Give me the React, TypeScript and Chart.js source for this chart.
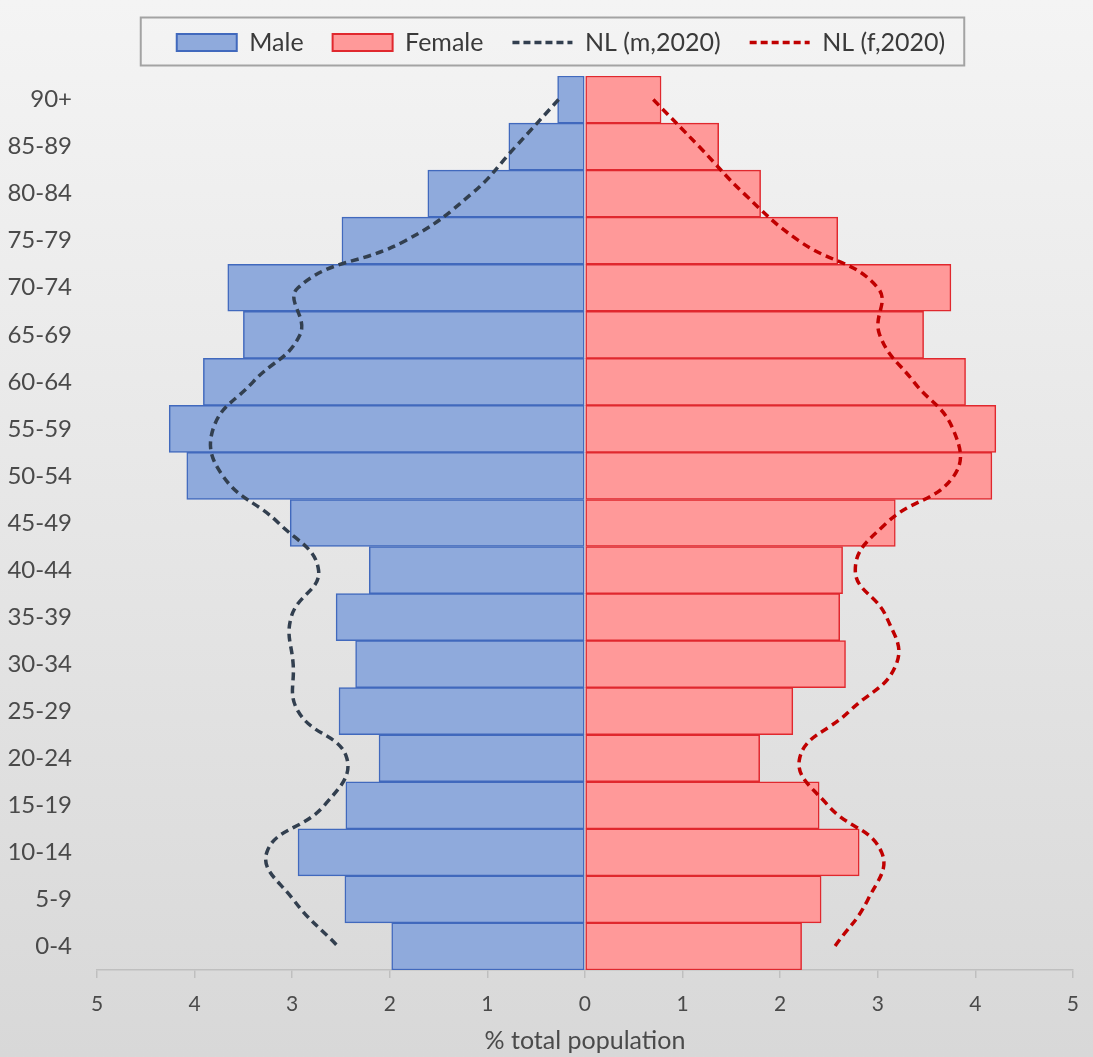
import React, { useEffect, useRef } from "react";
import { Chart, registerables } from "chart.js";

Chart.register(...registerables);

const ageGroups = ["90+", "85-89", "80-84", "75-79", "70-74", "65-69", "60-64", "55-59", "50-54", "45-49", "40-44", "35-39", "30-34", "25-29", "20-24", "15-19", "10-14", "5-9", "0-4"];

const maleValues = [0.28, 0.78, 1.61, 2.49, 3.66, 3.50, 3.91, 4.26, 4.08, 3.02, 2.21, 2.55, 2.35, 2.52, 2.11, 2.45, 2.94, 2.46, 1.98];
const femaleValues = [0.78, 1.37, 1.80, 2.59, 3.75, 3.47, 3.90, 4.21, 4.17, 3.18, 2.64, 2.61, 2.67, 2.13, 1.79, 2.40, 2.81, 2.42, 2.22];
const nlMale2020 = [0.27, 0.71, 1.16, 1.84, 2.94, 2.92, 3.40, 3.81, 3.71, 3.14, 2.73, 3.01, 2.99, 2.94, 2.44, 2.67, 3.26, 2.99, 2.53];
const nlFemale2020 = [0.70, 1.17, 1.63, 2.19, 3.00, 3.02, 3.37, 3.77, 3.78, 3.09, 2.77, 3.09, 3.19, 2.71, 2.20, 2.49, 3.04, 2.90, 2.56];

const xTickValues = [-5, -4, -3, -2, -1, 0, 1, 2, 3, 4, 5];

const FONT = "Lato, 'Open Sans', sans-serif";
const TEXT_COLOR = "#4a4a4a";

const bgPlugin = {
  id: "bgGradient",
  beforeDraw(chart: any) {
    const { ctx, width, height } = chart;
    const g = ctx.createLinearGradient(0, 0, 0, height);
    g.addColorStop(0, "#f4f4f4");
    g.addColorStop(1, "#d8d8d8");
    ctx.save();
    ctx.fillStyle = g;
    ctx.fillRect(0, 0, width, height);
    ctx.restore();
  },
};

const legendShiftPlugin = {
  id: "legendShift",
  afterLayout(chart: any) {
    const lg = chart.legend;
    if (!lg) return;
    lg.left += 24;
    lg.right += 24;
  },
};

const legendBorderPlugin = {
  id: "legendBorder",
  afterDraw(chart: any) {
    const lg = chart.legend;
    if (!lg || !lg.legendHitBoxes || !lg.legendHitBoxes.length) return;
    const hb = lg.legendHitBoxes;
    const first = hb[0];
    const last = hb[hb.length - 1];
    const cy = first.top + first.height / 2;
    const x0 = first.left - 36;
    const x1 = last.left + last.width + 19;
    const { ctx } = chart;
    ctx.save();
    ctx.strokeStyle = "#a3a3a3";
    ctx.lineWidth = 2;
    ctx.strokeRect(x0, cy - 25, x1 - x0, 48);
    ctx.restore();
  },
};

export default function App() {
  const ref = useRef<HTMLCanvasElement | null>(null);

  useEffect(() => {
    if (!ref.current) return;
    const chart = new Chart(ref.current, {
      type: "bar",
      data: {
        labels: ageGroups,
        datasets: [
          {
            type: "bar",
            label: "Male",
            data: maleValues.map((v) => -v),
            backgroundColor: "#8faadc",
            borderColor: "#4169bd",
            borderWidth: 1.5,
            borderSkipped: false,
            barPercentage: 1,
            categoryPercentage: 1,
            grouped: false,
            order: 2,
            xAxisID: "x",
          } as any,
          {
            type: "bar",
            label: "Female",
            data: femaleValues,
            backgroundColor: "#ff9999",
            borderColor: "#e0282e",
            borderWidth: 1.5,
            borderSkipped: false,
            barPercentage: 1,
            categoryPercentage: 1,
            grouped: false,
            order: 2,
            xAxisID: "x",
          } as any,
          {
            type: "line",
            label: "NL (m,2020)",
            data: nlMale2020.map((v) => -v),
            borderColor: "#323f4f",
            backgroundColor: "#323f4f",
            borderWidth: 3.5,
            borderDash: [8, 5],
            pointRadius: 0,
            tension: 0.45,
            fill: false,
            order: 1,
            xAxisID: "x",
          } as any,
          {
            type: "line",
            label: "NL (f,2020)",
            data: nlFemale2020,
            borderColor: "#c00000",
            backgroundColor: "#c00000",
            borderWidth: 3.5,
            borderDash: [8, 5],
            pointRadius: 0,
            tension: 0.45,
            fill: false,
            order: 1,
            xAxisID: "x",
          } as any,
        ],
      },
      options: {
        indexAxis: "y",
        responsive: false,
        animation: false,
        layout: { padding: { left: 0, right: 19, top: 1, bottom: 0 } },
        plugins: {
          tooltip: { enabled: false },
          legend: {
            display: true,
            position: "top",
            labels: {
              usePointStyle: true,
              pointStyleWidth: 60,
              boxHeight: 17,
              padding: 29,
              color: "#3a3a3a",
              font: { family: FONT, size: 25 },
              generateLabels: (ch: any) =>
                ch.data.datasets.map((ds: any, i: number) => ({
                  text: ds.label,
                  fillStyle: ds.type === "line" ? "rgba(0,0,0,0)" : ds.backgroundColor,
                  strokeStyle: ds.borderColor,
                  lineWidth: ds.type === "line" ? 3.5 : 2,
                  lineDash: ds.type === "line" ? [7, 4] : [],
                  pointStyle: ds.type === "line" ? "line" : "rect",
                  hidden: false,
                  datasetIndex: i,
                  fontColor: "#3a3a3a",
                })),
            },
          },
        },
        scales: {
          x: {
            type: "linear",
            position: "bottom",
            min: -5,
            max: 5,
            afterBuildTicks: (scale: any) => {
              scale.ticks = xTickValues.map((v) => ({ value: v }));
            },
            afterFit: (scale: any) => {
              scale.height = 87;
            },
            grid: {
              display: true,
              drawOnChartArea: false,
              drawTicks: true,
              tickLength: 8,
              color: "#bfbfbf",
              lineWidth: 1.5,
            },
            border: { display: true, color: "#bfbfbf", width: 1.5 },
            ticks: {
              padding: 14,
              color: TEXT_COLOR,
              font: { family: FONT, size: 21 },
              callback: (v: any) => String(Math.abs(Number(v))),
            },
            title: {
              display: true,
              text: "% total population",
              color: TEXT_COLOR,
              font: { family: FONT, size: 25 },
              padding: { top: 4, bottom: 1 },
            },
          },
          xTop: {
            type: "linear",
            position: "top",
            display: true,
            grid: { display: false, drawTicks: false },
            border: { display: false },
            ticks: { display: false },
            afterFit: (scale: any) => {
              scale.height = 11;
            },
          },
          y: {
            type: "category",
            position: "left",
            afterFit: (scale: any) => {
              scale.width = 97;
            },
            grid: { display: false, drawTicks: false },
            border: { display: false },
            ticks: {
              padding: 25,
              color: TEXT_COLOR,
              font: { family: FONT, size: 24 },
            },
          },
        },
      } as any,
      plugins: [bgPlugin, legendShiftPlugin, legendBorderPlugin],
    });
    return () => chart.destroy();
  }, []);

  return (
    <div style={{ position: "fixed", left: 0, top: 0, width: 1093, height: 1057 }}>
      <canvas ref={ref} width={1093} height={1057} style={{ display: "block" }} />
    </div>
  );
}
